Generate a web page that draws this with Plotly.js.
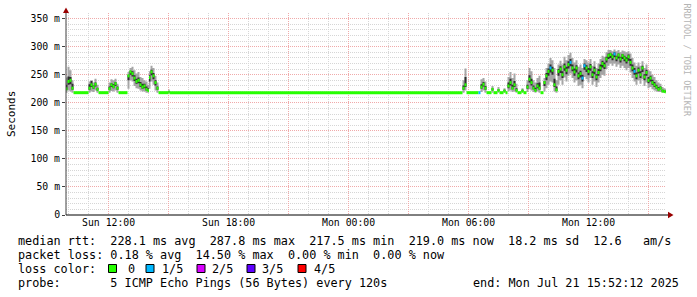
<!DOCTYPE html>
<html><head><meta charset="utf-8">
<script src="https://cdn.plot.ly/plotly-3.0.1.min.js"></script>
<style>html,body{margin:0;padding:0;background:#fff;}#chart{width:697px;height:297px;}</style>
</head><body><div id="chart"></div>
<script>
// hours since Sun 00:00 (Jul 20 2025)
const hours = [9.87,9.945,10.045,10.145,10.245,10.995,11.095,11.195,11.295,11.395,11.495,11.995,12.095,12.195,12.295,12.395,12.495,12.945,13.045,13.145,13.245,13.345,13.445,13.545,13.645,13.745,13.845,13.945,14.02,14.095,14.195,14.295,14.395,14.495,14.995,15.045,
29.695,29.795,29.895,30.495,30.595,30.695,30.795,30.895,31.145,31.245,31.445,31.545,31.745,31.845,31.945,32.045,32.145,32.245,32.345,32.445,32.645,32.745,32.895,32.995,33.095,33.195,33.295,33.395,33.495,33.595,33.745,33.845,33.945,34.045,34.145,34.245,34.345,34.445,34.545,34.645,34.745,34.845,34.945,35.045,35.145,35.245,35.345,35.445,35.545,35.645,35.745,35.845,35.945,36.045,36.145,36.245,36.345,36.445,36.545,36.645,36.745,36.845,36.945,37.045,37.145,37.245,37.345,37.445,37.545,37.645,37.745,37.845,37.945,38.045,38.145,38.245,38.345,38.445,38.545,38.645,38.745,38.845,38.945,39.045,39.145,39.245,39.345,39.445,39.545,39.645,39.745,39.845,39.87];
const median = [225,238,240,226,218,226,232,228,233,224,218,225,232,229,234,226,218,248,255,252,244,238,240,232,228,230,224,222,245,255,248,236,226,218,219,218,
226,232,218,218,228,233,226,218,224,218,222,218,221,218,230,236,226,232,222,218,221,218,228,242,236,226,222,230,226,218,236,248,256,262,258,232,223,256,260,250,264,258,268,272,262,255,262,248,252,244,266,262,256,264,250,258,246,254,262,270,266,278,284,286,282,287,280,285,278,284,280,276,282,272,262,256,248,258,250,262,246,254,240,244,236,232,228,224,226,221,220,219,219];
const smokeLo = [218,222,220,218,218,218,220,219,222,218,218,218,221,220,222,218,218,225,240,238,230,226,225,222,220,220,218,218,225,238,232,222,218,218,218,218,
218,222,218,218,219,222,218,218,218,218,218,218,218,218,220,222,219,220,218,218,218,218,219,224,222,219,218,220,218,218,220,226,232,238,236,220,218,232,240,232,245,238,248,252,244,236,240,230,232,226,246,242,236,244,232,238,228,236,244,250,248,260,266,270,266,270,264,268,262,266,262,258,262,254,244,238,232,240,234,242,230,236,226,228,224,222,220,219,219,218,218,218,218];
const smokeHi = [245,264,258,240,218,238,240,236,243,232,218,236,242,240,243,234,218,255,262,264,258,252,255,246,244,240,238,232,256,266,262,248,236,218,224,218,
240,261,218,218,242,244,238,218,230,218,228,218,226,218,246,255,244,252,234,218,226,218,240,262,256,240,236,244,248,218,244,262,270,280,276,262,240,268,275,268,282,276,285,289,280,272,276,264,268,262,278,276,272,278,266,274,262,270,278,284,282,290,294,294,292,295,292,294,290,293,292,290,292,288,280,272,266,272,266,274,262,268,258,256,250,246,240,236,234,228,226,224,224];
const coreLo = [223,232,233,223,218,223,228,225,229,222,218,223,228,226,230,223,218,240,250,247,239,234,235,228,225,226,222,221,238,249,242,231,223,218,218,218,
223,228,218,218,225,229,223,218,222,218,221,218,220,218,226,231,224,228,221,218,220,218,225,236,231,224,221,226,223,218,230,240,248,254,250,228,221,248,253,244,257,251,261,265,256,248,254,242,245,238,259,255,249,257,244,251,240,248,256,263,260,272,278,280,276,281,274,279,272,278,274,270,275,266,256,250,242,252,244,255,240,248,235,238,232,228,225,222,224,220,219,219,219];
const coreHi = [232,247,246,234,218,233,239,231,236,227,218,229,235,233,237,229,218,250,257,256,249,243,245,237,234,234,229,226,249,259,253,240,229,218,221,218,
231,246,218,218,233,237,230,218,226,218,224,218,223,218,236,243,232,239,226,218,223,218,232,249,243,231,227,235,236,218,239,253,261,268,264,243,229,260,265,256,270,264,274,278,268,261,267,254,257,250,270,267,262,269,256,264,251,260,268,275,272,282,288,289,286,290,284,288,282,287,284,281,286,278,268,262,254,263,256,266,251,259,246,248,241,237,232,228,229,223,222,221,221];
const loss = [0,0,0,0,0,0,0,0,0,0,0,0,0,0,0,0,0,0,0,0,0,0,0,0,0,0,0,0,0,0,0,0,0,0,0,0,
0,0,0,1,0,0,0,0,0,0,0,0,0,0,0,0,0,0,0,0,0,0,0,0,0,0,0,0,0,0,0,0,0,1,0,0,0,0,0,0,0,0,0,1,0,0,0,0,0,1,1,0,0,0,0,0,0,0,0,0,0,0,0,0,0,1,0,0,0,0,0,0,0,0,0,1,0,0,0,0,0,0,0,0,0,0,0,0,0,0,0,0,0];

const lossLabels = ['0','1/5','2/5','3/5','4/5'];
const lossColors = ['#26ff00','#00b8ff','#d800ff','#5e00ff','#ff0000'];
const xTickVals = [12,15,18,21,24,27,30,33,36,39];
const xTickText = ['Sun 12:00','','Sun 18:00','','Mon 00:00','','Mon 06:00','','Mon 12:00',''];
const yTickVals = [0,50,100,150,200,250,300,350];
const yTickText = ['0','50 m','100 m','150 m','200 m','250 m','300 m','350 m'];
const legendLines = [
  'median rtt:  228.1 ms avg  287.8 ms max  217.5 ms min  219.0 ms now  18.2 ms sd  12.6   am/s',
  'packet loss: 0.18 % avg  14.50 % max  0.00 % min  0.00 % now',
  'loss color:',
  'probe:       5 ICMP Echo Pings (56 Bytes) every 120s'
];
const endText = 'end: Mon Jul 21 15:52:12 2025';
const watermark = 'RRDTOOL / TOBI OETIKER';

const L = 66, W = 600, T = 13, H = 202;
const px = x => (x - L) / W;
const py = y => (T + H - y) / H;
const nb = s => s.replace(/ /g, '\u00a0');
const mono = 'DejaVu Sans Mono';

const traces = [];
function band(lo, hi, color) {
  traces.push({x: hours, y: lo, mode: 'lines', line: {width: 0, shape: 'hv'}, hoverinfo: 'skip', showlegend: false});
  traces.push({x: hours, y: hi, mode: 'lines', line: {width: 0, shape: 'hv'}, fill: 'tonexty', fillcolor: color, hoverinfo: 'skip', showlegend: false});
}
band(smokeLo, smokeHi, '#a6a6a6');
band(coreLo, coreHi, '#303030');
for (let lvl = 0; lvl < lossColors.length; lvl++) {
  const xs = [], ys = [];
  for (let i = 0; i < hours.length - 1; i++) {
    if (loss[i] === lvl) { xs.push(hours[i], hours[i + 1], null); ys.push(median[i], median[i], null); }
  }
  if (xs.length) traces.push({x: xs, y: ys, mode: 'lines', line: {color: lossColors[lvl], width: 3}, hoverinfo: 'skip', showlegend: false});
}

const annotations = [];
const lineY = [241, 255, 269, 283];
const txt = (x, y, s, xa, opts) => Object.assign({xref: 'paper', yref: 'paper', x: px(x), y: py(y), xanchor: xa, yanchor: 'middle', text: nb(s), showarrow: false, font: {family: mono, size: 11.8, color: '#000'}}, opts || {});
legendLines.forEach((s, i) => annotations.push(txt(16, lineY[i], s, 'left')));
annotations.push(txt(681, 283, endText, 'right'));
const sqX = [108.5, 146, 197, 247, 298];
const lblX = [126, 160, 210, 260, 312];
const shapes = [];
lossLabels.forEach((lab, i) => {
  shapes.push({type: 'rect', xref: 'paper', yref: 'paper', x0: px(sqX[i]), x1: px(sqX[i] + 8), y0: py(272.5), y1: py(264.5), fillcolor: lossColors[i], line: {color: '#000', width: 1}});
  annotations.push(txt(lblX[i], lineY[2], lab, 'left'));
});
annotations.push(txt(11, 114, 'Seconds', 'center', {textangle: -90, font: {family: mono, size: 11, color: '#000'}}));
annotations.push(txt(686.5, 60, watermark, 'center', {textangle: 90, font: {family: mono, size: 8.5, color: '#b4b4b4'}}));

// axis lines and arrows
shapes.push({type: 'line', xref: 'paper', yref: 'paper', x0: 0, x1: 0, y0: 0, y1: py(10), line: {color: '#404040', width: 1}});
shapes.push({type: 'line', xref: 'paper', yref: 'paper', x0: 0, x1: px(669), y0: 0, y1: 0, line: {color: '#000', width: 1}});
shapes.push({type: 'path', xref: 'paper', yref: 'paper', path: `M ${px(63)} ${py(13)} L ${px(69)} ${py(13)} L ${px(66)} ${py(7.5)} Z`, fillcolor: '#990000', line: {width: 0}});
shapes.push({type: 'path', xref: 'paper', yref: 'paper', path: `M ${px(668)} ${py(211.7)} L ${px(668)} ${py(218.3)} L ${px(673.5)} ${py(215)} Z`, fillcolor: '#990000', line: {width: 0}});

const gridMinor = '#d6d6d6', gridMajor = '#f0aaaa';
const layout = {
  width: 697, height: 297,
  margin: {l: L, r: 697 - L - W, t: T, b: 297 - T - H, pad: 0},
  paper_bgcolor: '#fff', plot_bgcolor: '#fff',
  showlegend: false,
  xaxis: {
    range: [9.87, 39.87], tickmode: 'array', tickvals: xTickVals, ticktext: xTickText,
    showgrid: true, gridcolor: gridMajor, griddash: '1px,1px', gridwidth: 1,
    zeroline: false, showline: false, ticks: '',
    tickfont: {family: mono, size: 9.8, color: '#000'},
    minor: {tickmode: 'linear', tick0: 0, dtick: 1, showgrid: true, gridcolor: gridMinor, griddash: '1px,1px', gridwidth: 1, ticks: ''},
    fixedrange: true
  },
  yaxis: {
    range: [0, 360], tickmode: 'array', tickvals: yTickVals, ticktext: yTickText,
    showgrid: true, gridcolor: gridMajor, griddash: '1px,1px', gridwidth: 1,
    zeroline: false, showline: false, ticks: 'outside', ticklen: 3, tickcolor: '#404040',
    tickfont: {family: mono, size: 9.8, color: '#000'},
    minor: {tickmode: 'linear', tick0: 0, dtick: 10, showgrid: true, gridcolor: gridMinor, griddash: '1px,1px', gridwidth: 1, ticks: ''},
    fixedrange: true
  },
  shapes: shapes,
  annotations: annotations
};
Plotly.newPlot('chart', traces, layout, {staticPlot: true, displayModeBar: false});
</script></body></html>
